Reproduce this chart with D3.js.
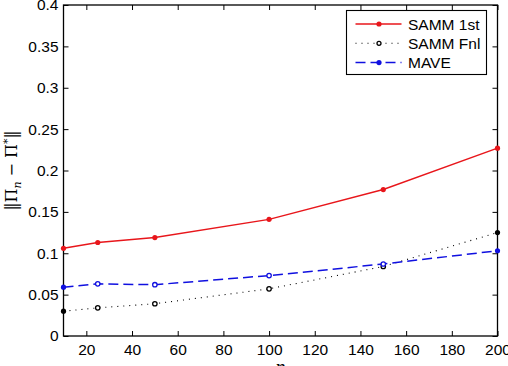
<!DOCTYPE html>
<html>
<head>
<meta charset="utf-8">
<script src="https://cdn.jsdelivr.net/npm/d3@7"></script>
<style>
  body { margin: 0; background: #fff; }
  text { font-family: "Liberation Sans", Arial, sans-serif; }
</style>
</head>
<body>
<div id="chart"></div>
<script>
const xValues = [10, 25, 50, 100, 150, 200]
const samm1st = [0.106, 0.113, 0.119, 0.141, 0.177, 0.227]
const sammFnl = [0.030, 0.034, 0.039, 0.057, 0.084, 0.125]
const mave = [0.059, 0.063, 0.062, 0.073, 0.087, 0.103]
const xTicks = [20, 40, 60, 80, 100, 120, 140, 160, 180, 200]
const yTicks = [0, 0.05, 0.1, 0.15, 0.2, 0.25, 0.3, 0.35, 0.4]
const seriesNames = ["SAMM 1st", "SAMM Fnl", "MAVE"]

const W = 508, H = 366
const MARGIN = {top: 5, right: 10.5, bottom: 30, left: 63.5}
const WIDTH = W - MARGIN.left - MARGIN.right
const HEIGHT = H - MARGIN.top - MARGIN.bottom

const svg = d3.select("#chart").append("svg")
  .attr("width", W).attr("height", H)
const g = svg.append("g")
  .attr("transform", "translate(" + MARGIN.left + "," + MARGIN.top + ")")

const x = d3.scaleLinear().domain([10, 200]).range([0, WIDTH])
const y = d3.scaleLinear().domain([0, 0.4]).range([HEIGHT, 0])

// axes with inward ticks on all four sides
const tickLen = 5
g.append("g").attr("transform", "translate(0," + HEIGHT + ")")
  .call(d3.axisBottom(x).tickValues(xTicks).tickSizeInner(-tickLen).tickSizeOuter(0).tickPadding(8))
g.append("g")
  .call(d3.axisTop(x).tickValues(xTicks).tickSizeInner(-tickLen).tickSizeOuter(0).tickFormat(""))
g.append("g")
  .call(d3.axisLeft(y).tickValues(yTicks).tickSizeInner(-tickLen).tickSizeOuter(0).tickPadding(5).tickFormat(d => d3.format("")(+d.toFixed(2))))
g.append("g").attr("transform", "translate(" + WIDTH + ",0)")
  .call(d3.axisRight(y).tickValues(yTicks).tickSizeInner(-tickLen).tickSizeOuter(0).tickFormat(""))

g.selectAll(".domain").remove()
g.selectAll(".tick line").attr("stroke", "#000").attr("stroke-width", 1)
g.selectAll(".tick text").attr("font-size", 15.5).attr("fill", "#000")
  .attr("font-family", "'Liberation Sans', Arial, sans-serif")

g.append("rect").attr("width", WIDTH).attr("height", HEIGHT)
  .attr("fill", "none").attr("stroke", "#000").attr("stroke-width", 1.3)

const series = [
  {name: seriesNames[0], values: samm1st, color: "#e8161b", dash: null, width: 1.4, hollow: false},
  {name: seriesNames[1], values: sammFnl, color: "#000", dash: "1,5", width: 1.1, hollow: true},
  {name: seriesNames[2], values: mave, color: "#1010e0", dash: "10,5", width: 1.5, hollow: true}
]

const line = d3.line().x(d => x(d[0])).y(d => y(d[1]))

series.forEach(s => {
  const pts = xValues.map((xv, i) => [xv, s.values[i]])
  g.append("path").datum(pts)
    .attr("d", line).attr("fill", "none")
    .attr("stroke", s.color).attr("stroke-width", s.width)
    .attr("stroke-dasharray", s.dash)
  const inner = i => s.hollow && i > 0 && i < pts.length - 1
  g.selectAll(null).data(pts).enter().append("circle")
    .attr("cx", d => x(d[0])).attr("cy", d => y(d[1]))
    .attr("r", (d, i) => inner(i) ? 2.2 : 2.6)
    .attr("fill", (d, i) => inner(i) ? "#fff" : s.color)
    .attr("stroke", s.color).attr("stroke-width", (d, i) => inner(i) ? 1.3 : 0)
})

// legend
const legend = svg.append("g")
legend.append("rect")
  .attr("x", 346.5).attr("y", 10.5).attr("width", 140).attr("height", 64)
  .attr("fill", "#fff").attr("stroke", "#000").attr("stroke-width", 1.1)
series.forEach((s, i) => {
  const ly = 24 + i * 19.3
  const hollowKey = s.name === "SAMM Fnl"
  legend.append("line")
    .attr("x1", 355.5).attr("x2", 401.5).attr("y1", ly).attr("y2", ly)
    .attr("stroke", s.color).attr("stroke-width", s.width)
    .attr("stroke-dasharray", s.dash)
  legend.append("circle").attr("cx", 379).attr("cy", ly)
    .attr("r", hollowKey ? 2 : 2.6)
    .attr("fill", hollowKey ? "#fff" : s.color)
    .attr("stroke", s.color).attr("stroke-width", hollowKey ? 1.3 : 0)
  legend.append("text").attr("x", 408).attr("y", ly + 5.5)
    .attr("font-size", 15.5).attr("fill", "#000").text(s.name)
})

// axis labels
const yl = svg.append("text")
  .attr("transform", "translate(17," + (MARGIN.top + HEIGHT / 2) + ") rotate(-90)")
  .attr("text-anchor", "middle")
  .style("font-family", "'DejaVu Serif', 'Liberation Serif', serif")
  .attr("font-size", 16).attr("fill", "#000")
yl.append("tspan").text("\u2016\u03A0")
yl.append("tspan").attr("font-size", 11).attr("font-style", "italic").attr("dy", 4).text("n")
yl.append("tspan").attr("dy", -4).text(" \u2212 \u03A0")
yl.append("tspan").attr("font-size", 11).attr("dy", -6).text("*")
yl.append("tspan").attr("dy", 6).text("\u2016")

svg.append("text")
  .attr("x", MARGIN.left + WIDTH / 2).attr("y", 374)
  .attr("text-anchor", "middle")
  .style("font-family", "'Liberation Serif', serif")
  .attr("font-style", "italic").attr("font-size", 20).attr("fill", "#000")
  .text("n")
</script>
</body>
</html>
